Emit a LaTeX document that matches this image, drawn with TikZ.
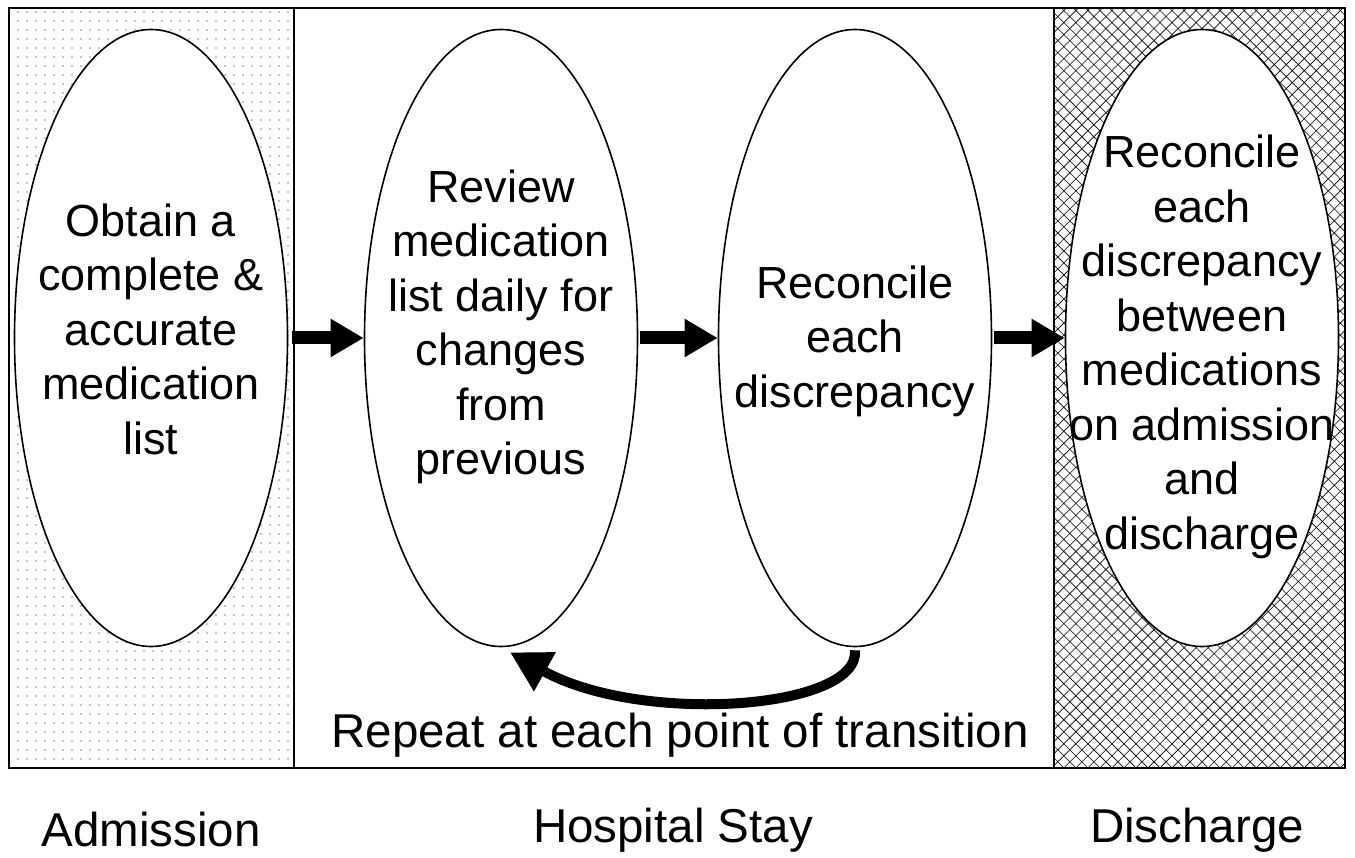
\documentclass[tikz,border=0pt]{standalone}
\usepackage{fontspec}
\setmainfont{Liberation Sans}
\usetikzlibrary{shapes.geometric,arrows.meta,patterns.meta}
\tikzset{
  stage/.style={ellipse, draw, line width=1.6pt, fill=white, minimum width=273pt, minimum height=617pt, inner sep=0pt},
  stagetext/.style={align=center, font=\fontsize{45}{54.5}\selectfont},
  blockarrow/.style={line width=13pt, -{Triangle[length=33pt,width=36pt]}},
  panel/.style={draw, line width=1.6pt},
  lbl/.style={font=\fontsize{47.5}{54}\selectfont}
}
\begin{document}
\begin{tikzpicture}[x=1pt,y=-1pt]
\useasboundingbox (0,0) rectangle (1355,858);
% panels
\fill[pattern={Dots[distance=9pt,radius=0.65pt]}] (9,8) rectangle (294,768);
\fill[pattern={Lines[angle=45,distance=8.5pt,line width=0.6pt]}] (1054,8) rectangle (1345,768);
\fill[pattern={Lines[angle=-45,distance=8.5pt,line width=0.6pt]}] (1054,8) rectangle (1345,768);
\draw[panel] (9,8) rectangle (1345,768);
\draw[panel] (294,8) -- (294,768);
\draw[panel] (1054,8) -- (1054,768);
% stages
\node[stage, label={[stagetext, yshift=9pt]center:{Obtain a\\complete \&\\accurate\\medication\\list}}] (e1) at (151,338) {};
\node[stage, label={[stagetext, yshift=11pt]center:{Review\\medication\\list daily for\\changes\\from\\previous}}] (e2) at (501,338) {};
\node[stage, label={[stagetext, yshift=-3pt]center:{Reconcile\\each\\discrepancy}}] (e3) at (855,338) {};
\node[stage, label={[stagetext, yshift=-9pt]center:{Reconcile\\each\\discrepancy\\between\\medications\\on admission\\and\\discharge}}] (e4) at (1202,338) {};
% arrows
\draw[blockarrow] ([xshift=4pt]e1.east) -- (e2.west);
\draw[blockarrow] ([xshift=2pt]e2.east) -- (e3.west);
\draw[blockarrow] ([xshift=2pt]e3.east) -- (e4.west);
\draw[line width=10pt, -{Triangle[length=40pt,width=42pt]}] ([yshift=-3pt]e3.south) .. controls (860,710) and (640,725) .. ([xshift=9pt,yshift=-5pt]e2.south);
% labels
\node[lbl] (rep) at (680,735) {Repeat at each point of transition};
\node[lbl] (adm) at (151,830) {Admission};
\node[lbl] (hos) at (673,830) {Hospital Stay};
\node[lbl] (dis) at (1197,830) {Discharge};
\end{tikzpicture}
\end{document}
